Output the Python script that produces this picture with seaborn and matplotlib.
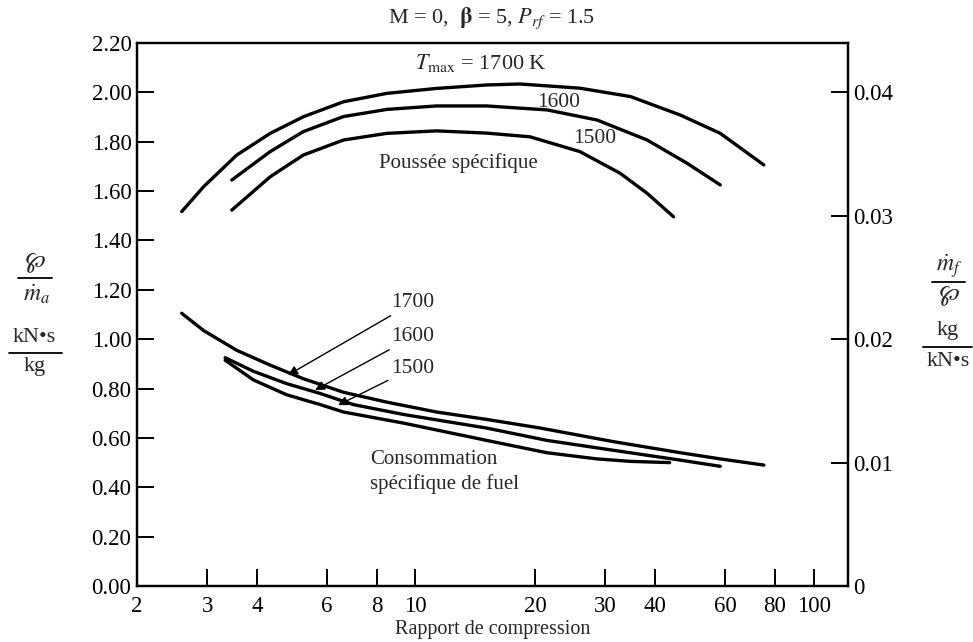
import numpy as np
import pandas as pd
import seaborn as sns
import matplotlib.pyplot as plt
from matplotlib.lines import Line2D

# Specific thrust (kN.s/kg) vs compressor pressure ratio
pr_f1700 = [2.59, 2.94, 3.56, 4.32, 5.23, 6.60, 8.48, 11.3, 15.1, 18.3, 25.9, 34.7, 46.3, 58.3, 75.0]
f_1700 = [1.517, 1.618, 1.746, 1.834, 1.901, 1.962, 1.996, 2.016, 2.030, 2.034, 2.017, 1.983, 1.908, 1.834, 1.706]
pr_f1600 = [3.46, 4.32, 5.23, 6.60, 8.48, 11.3, 15.1, 21.4, 28.6, 38.2, 48.1, 58.3]
f_1600 = [1.645, 1.760, 1.841, 1.902, 1.931, 1.945, 1.945, 1.929, 1.888, 1.807, 1.713, 1.625]
pr_f1500 = [3.46, 4.32, 5.23, 6.60, 8.48, 11.3, 15.1, 19.4, 25.9, 32.7, 38.2, 44.5]
f_1500 = [1.523, 1.658, 1.746, 1.807, 1.834, 1.844, 1.835, 1.820, 1.760, 1.672, 1.591, 1.496]

# Specific fuel consumption (kg/(kN.s)), right-hand axis
pr_s1700 = [2.59, 2.94, 3.56, 4.32, 5.23, 6.60, 8.48, 11.3, 15.1, 20.6, 31.4, 46.3, 58.3, 75.0]
s_1700 = [0.0221, 0.0207, 0.0191, 0.0179, 0.0168, 0.0157, 0.0149, 0.0141, 0.0135, 0.0128,
          0.0117, 0.0108, 0.0103, 0.0098]
pr_s1600 = [3.33, 3.92, 4.75, 5.77, 6.99, 9.34, 15.1, 21.4, 31.4, 46.3, 58.3]
s_1600 = [0.0185, 0.0174, 0.0164, 0.0156, 0.0147, 0.0139, 0.0128, 0.0118, 0.0110, 0.0102, 0.0097]
pr_s1500 = [3.33, 3.92, 4.75, 5.77, 6.60, 9.34, 15.1, 21.4, 28.6, 34.7, 43.5]
s_1500 = [0.0183, 0.0167, 0.0155, 0.0147, 0.0141, 0.0132, 0.0118, 0.0108, 0.0103, 0.0101, 0.0100]

x_ticks = [2, 3, 4, 6, 8, 10, 20, 30, 40, 60, 80, 100]
y_left_ticks = [0.0, 0.2, 0.4, 0.6, 0.8, 1.0, 1.2, 1.4, 1.6, 1.8, 2.0, 2.2]
y_right_ticks = [0, 0.01, 0.02, 0.03, 0.04]

thrust = pd.concat([
    pd.DataFrame({"pr": pr_f1700, "val": f_1700, "T": "1700"}),
    pd.DataFrame({"pr": pr_f1600, "val": f_1600, "T": "1600"}),
    pd.DataFrame({"pr": pr_f1500, "val": f_1500, "T": "1500"}),
])
tsfc = pd.concat([
    pd.DataFrame({"pr": pr_s1700, "val": s_1700, "T": "1700"}),
    pd.DataFrame({"pr": pr_s1600, "val": s_1600, "T": "1600"}),
    pd.DataFrame({"pr": pr_s1500, "val": s_1500, "T": "1500"}),
])

sns.set_theme(style="ticks")
plt.rcParams["font.family"] = ["Liberation Serif", "DejaVu Serif"]
plt.rcParams["mathtext.fontset"] = "stix"

fig = plt.figure(figsize=(9.73, 6.42), dpi=100)
ax = fig.add_axes([0.1408, 0.0872, 0.7307, 0.8458])
ax2 = ax.twinx()

black = {"1700": "black", "1600": "black", "1500": "black"}
sns.lineplot(data=thrust, x="pr", y="val", hue="T", palette=black, sort=False,
             estimator=None, linewidth=2.4, legend=False, ax=ax)
sns.lineplot(data=tsfc, x="pr", y="val", hue="T", palette=black, sort=False,
             estimator=None, linewidth=2.4, legend=False, ax=ax2)

ax.set_xscale("log")
ax.set_xlim(2, 122)
ax.set_ylim(0, 2.2)
ax2.set_ylim(0, 0.044)

ax.set_xticks(x_ticks)
ax.set_xticklabels([str(t) for t in x_ticks])
ax.xaxis.set_minor_locator(plt.NullLocator())
ax.set_yticks(y_left_ticks)
ax.set_yticklabels([f"{t:.2f}" for t in y_left_ticks])
ax2.set_yticks(y_right_ticks)
ax2.set_yticklabels(["0", "0.01", "0.02", "0.03", "0.04"])

for a in (ax, ax2):
    a.tick_params(direction="in", length=12, width=1.4, labelsize=16.5, colors="black")
    for s in a.spines.values():
        s.set_linewidth(1.6)
        s.set_color("black")
ax.tick_params(axis="x", pad=7, top=False)
ax.tick_params(axis="y", pad=4, right=False)
ax2.tick_params(axis="y", pad=4)

ax.set_xlabel("Rapport de compression", fontsize=14.5, labelpad=2)
ax.set_ylabel("")
ax2.set_ylabel("")

# annotations inside the plot
ax.text(10.0, 2.12, r"$T_{\mathrm{max}}$ = 1700 K", fontsize=16, ha="left", va="center")
ax.text(20.2, 1.958, "1600", fontsize=15.5, ha="left", va="center")
ax.text(24.9, 1.812, "1500", fontsize=15.5, ha="left", va="center")
ax.text(12.8, 1.714, "Poussée spécifique", fontsize=15, ha="center", va="center")
ax.text(7.7, 0.462, "Consommation\nspécifique de fuel", fontsize=15, ha="left",
        va="center", linespacing=1.3)

arrow = dict(arrowstyle="-|>", color="black", lw=1.0, mutation_scale=14,
             shrinkA=0, shrinkB=0)
ax.annotate("1700", xy=(4.79, 0.855), xytext=(8.7, 1.147), fontsize=15.5,
            va="center", ha="left", arrowprops=arrow)
ax.annotate("1600", xy=(5.6, 0.794), xytext=(8.7, 1.009), fontsize=15.5,
            va="center", ha="left", arrowprops=arrow)
ax.annotate("1500", xy=(6.4, 0.733), xytext=(8.7, 0.883), fontsize=15.5,
            va="center", ha="left", arrowprops=arrow)

fig.text(0.505, 0.972, r"M = 0,  $\mathbf{\beta}$ = 5, $P_{rf}$ = 1.5", fontsize=16,
         ha="center", va="center")

# stacked fraction labels for both y axes
W, H = 973, 642
def ftext(x, y, s, size=16):
    fig.text(x / W, 1 - y / H, s, fontsize=size, ha="center", va="center")
def fline(x0, x1, y):
    fig.add_artist(Line2D([x0 / W, x1 / W], [1 - y / H, 1 - y / H],
                          color="black", lw=1.3, transform=fig.transFigure))

ftext(35, 263, r"$\wp$", 18)
fline(18, 52, 278)
ftext(37, 294, r"$\dot{m}_a$", 17)
ftext(34, 338, "kN•s")
fline(9, 62, 353)
ftext(35, 367, "kg")

ftext(949, 266, r"$\dot{m}_f$", 17)
fline(932, 965, 282)
ftext(949, 296, r"$\wp$", 18)
ftext(948, 331, "kg")
fline(923, 972, 347)
ftext(948, 361, "kN•s")

fig.savefig("out.png", dpi=100)
